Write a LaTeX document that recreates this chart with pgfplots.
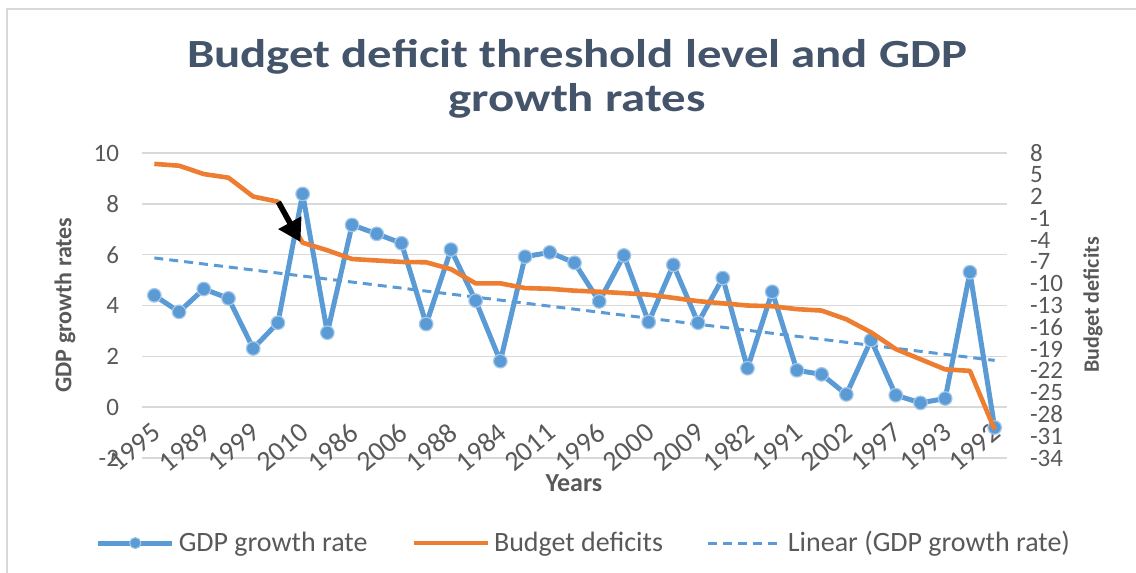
\documentclass[border=0pt]{standalone}
\usepackage{fontspec}
\setmainfont{Carlito}
\newfontfamily\titlefont{Carlito}[FakeStretch=1.22]
\usepackage{pgfplots}
\usepackage{pgfplotstable}
\pgfplotsset{compat=1.18}
\usetikzlibrary{arrows.meta}
\definecolor{gdpblue}{HTML}{5B9BD5}
\definecolor{deforange}{HTML}{ED7D31}
\definecolor{gridgray}{HTML}{D9D9D9}
\definecolor{txtgray}{HTML}{595959}
\definecolor{titlecol}{HTML}{44546A}

\pgfplotstableread{
idx gdp
0 4.40
1 3.75
2 4.65
3 4.28
4 2.31
5 3.32
6 8.39
7 2.93
8 7.17
9 6.82
10 6.45
11 3.27
12 6.20
13 4.19
14 1.81
15 5.92
16 6.09
17 5.68
18 4.16
19 5.97
20 3.35
21 5.60
22 3.32
23 5.08
24 1.53
25 4.54
26 1.45
27 1.29
28 0.50
29 2.64
30 0.47
31 0.17
32 0.34
33 5.31
34 -0.80
}\gdptable

\pgfplotstableread{
idx def
0 6.5
1 6.25
2 5.1
3 4.6
4 2.0
5 1.3
6 -4.35
7 -5.4
8 -6.6
9 -6.8
10 -7.0
11 -7.05
12 -8.0
13 -9.95
14 -9.95
15 -10.6
16 -10.7
17 -10.96
18 -11.1
19 -11.3
20 -11.5
21 -11.95
22 -12.4
23 -12.7
24 -13.0
25 -13.1
26 -13.5
27 -13.7
28 -14.9
29 -16.7
30 -19.0
31 -20.4
32 -21.8
33 -22.0
34 -30.1
}\deftable

\begin{document}
\begin{tikzpicture}
\path[use as bounding box] (0,0) rectangle (568pt,286.5pt);
\draw[gridgray, line width=1pt] (3.5pt,0) -- (3.5pt,282pt) -- (568pt,282pt);

\begin{axis}[
  at={(71pt,57.5pt)}, anchor=south west,
  scale only axis, width=432.5pt, height=152.5pt,
  xmin=-0.5, xmax=34.5, ymin=-2, ymax=10,
  xtick={0,2,...,34},
  xticklabels={1995,1989,1999,2010,1986,2006,1988,1984,2011,1996,2000,2009,1982,1991,2002,1997,1993,1992},
  ytick={-2,0,...,10},
  ymajorgrids, grid style={gridgray, line width=0.75pt},
  axis line style={draw=none}, major tick length=0pt,
  tick label style={font=\fontsize{12.5}{13}\selectfont, text=txtgray},
  xticklabel style={font=\fontsize{14}{15}\selectfont, xshift=-1.5pt, yshift=23pt, rotate=40, anchor=north east},
  yticklabel style={xshift=-8pt},
  /pgf/number format/assume math mode=true,
  clip=false,
]
\addplot[gdpblue, line width=2.5pt, line join=round, mark=*, mark size=3.4pt,
  mark options={fill=gdpblue, draw=gdpblue!55!white, line width=0.6pt, solid}]
  table[x=idx, y=gdp] {\gdptable};
\addplot[gdpblue, line width=1.5pt, dash pattern=on 4.5pt off 3pt]
  coordinates {(0,5.87) (34,1.84)};
\end{axis}

\begin{axis}[
  at={(71pt,57.5pt)}, anchor=south west,
  scale only axis, width=432.5pt, height=152.5pt,
  xmin=-0.5, xmax=34.5, ymin=-34, ymax=8,
  axis x line=none, axis y line*=right,
  axis line style={draw=none}, major tick length=0pt,
  ytick={-34,-31,...,8},
  tick label style={font=\fontsize{12.5}{13}\selectfont, text=txtgray},
  yticklabel style={anchor=west, xshift=8pt},
  /pgf/number format/assume math mode=true,
  clip=false,
  legend style={at={(0.512,-0.279)}, anchor=center, draw=none, fill=none,
    legend columns=3, font=\fontsize{14}{16}\selectfont, text=txtgray,
    /tikz/every even column/.append style={column sep=20pt}},
  legend image code/.code={\draw[mark repeat=2, mark phase=2, #1] plot coordinates {(0pt,0pt) (18.5pt,0pt) (37pt,0pt)};},
]
\addlegendimage{gdpblue, line width=2.5pt, mark=*, mark size=2.8pt, mark options={fill=gdpblue, draw=gdpblue!55!white, line width=0.5pt, solid}}
\addlegendentry{GDP growth rate}
\addplot[deforange, line width=2.3pt, line join=round] table[x=idx, y=def] {\deftable};
\addlegendentry{Budget deficits}
\addlegendimage{gdpblue, line width=1.5pt, dash pattern=on 4.5pt off 3pt}
\addlegendentry{Linear (GDP growth rate)}
\draw[black, line width=2.8pt, -{Triangle[length=11pt, width=12.5pt]}] (axis cs:5.02,1.25) -- (axis cs:5.91,-4.25);
\end{axis}

\node[anchor=base, font=\titlefont\fontsize{20}{24}\selectfont\bfseries, text=titlecol] at (288.5pt,252.5pt) {Budget deficit threshold level and GDP};
\node[anchor=base, font=\titlefont\fontsize{20}{24}\selectfont\bfseries, text=titlecol] at (288.5pt,230.5pt) {growth rates};
\node[rotate=90, font=\fontsize{12}{14}\selectfont\bfseries, text=txtgray] at (32.5pt,134pt) {GDP growth rates};
\node[rotate=90, font=\fontsize{11}{13}\selectfont\bfseries, text=txtgray] at (546.5pt,134pt) {Budget deficits};
\node[font=\fontsize{13}{15}\selectfont\bfseries, text=txtgray] at (287pt,45pt) {Years};
\end{tikzpicture}
\end{document}
